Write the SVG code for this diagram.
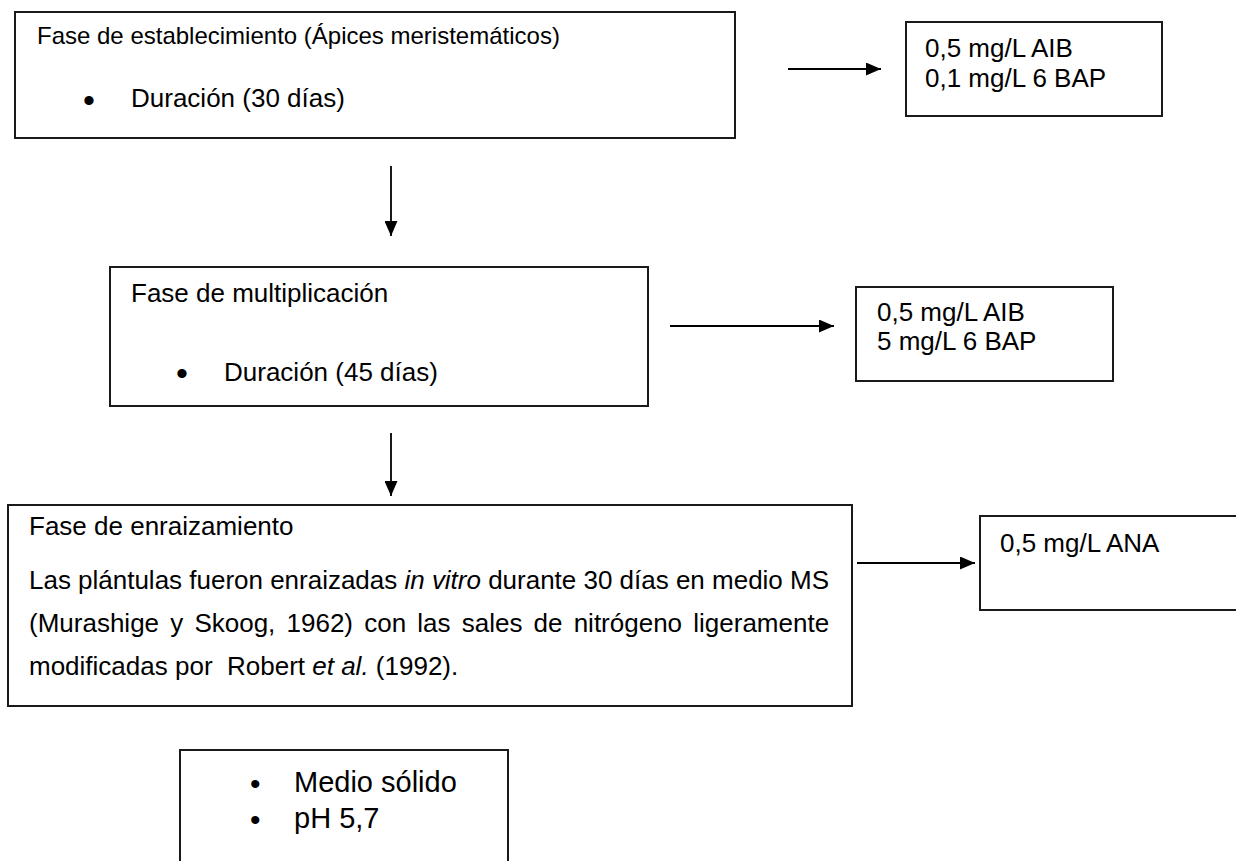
<svg xmlns="http://www.w3.org/2000/svg" width="1236" height="861" viewBox="0 0 1236 861">
<defs>
<marker id="ah" markerWidth="15" markerHeight="13" refX="15" refY="6.5" orient="auto" markerUnits="userSpaceOnUse">
<path d="M0,0 L15,6.5 L0,13 Z" fill="#000"/>
</marker>
<style>
.box{fill:#fff;stroke:#1a1a1a;stroke-width:2}
.t{font-family:"Liberation Sans",Arial,sans-serif;font-size:26px;fill:#000}
.h1{font-size:24px}
.big{font-size:29px}
.b{font-size:34px}
.bb{font-size:30px}
.c{stroke:#000;stroke-width:1.8;fill:none}
</style>
</defs>
<rect width="1236" height="861" fill="#fff"/>
<g id="n1">
<rect class="box" x="15" y="12" width="720" height="126"/>
<text class="t h1" x="37" y="44">Fase de establecimiento (Ápices meristemáticos)</text>
<text class="t b" x="83" y="112">•</text>
<text class="t" x="131" y="107">Duración (30 días)</text>
</g>
<g id="n2">
<rect class="box" x="906" y="22" width="256" height="94"/>
<text class="t" x="925" y="57">0,5 mg/L AIB</text>
<text class="t" x="925" y="87">0,1 mg/L 6 BAP</text>
</g>
<g id="n3">
<rect class="box" x="110" y="267" width="538" height="139"/>
<text class="t" x="131" y="302">Fase de multiplicación</text>
<text class="t b" x="176" y="385">•</text>
<text class="t" x="224" y="381">Duración (45 días)</text>
</g>
<g id="n4">
<rect class="box" x="856" y="287" width="257" height="94"/>
<text class="t" x="877" y="321">0,5 mg/L AIB</text>
<text class="t" x="877" y="350">5 mg/L 6 BAP</text>
</g>
<g id="n5">
<rect class="box" x="8" y="505" width="844" height="201"/>
<text class="t" x="29" y="535">Fase de enraizamiento</text>
<text class="t" x="29" y="589" textLength="800" lengthAdjust="spacing">Las plántulas fueron enraizadas <tspan font-style="italic">in vitro</tspan> durante 30 días en medio MS</text>
<text class="t" x="29" y="632" word-spacing="3.95">(Murashige y Skoog, 1962) con las sales de nitrógeno ligeramente</text>
<text class="t" x="29" y="675" xml:space="preserve">modificadas por  Robert <tspan font-style="italic">et al.</tspan> (1992).</text>
</g>
<g id="n6">
<rect class="box" x="980" y="516" width="262" height="94"/>
<text class="t" x="1000" y="552">0,5 mg/L ANA</text>
</g>
<g id="n7">
<rect class="box" x="180" y="750" width="328" height="120"/>
<text class="t bb" x="250" y="794">•</text>
<text class="t big" x="294" y="792">Medio sólido</text>
<text class="t bb" x="250" y="830">•</text>
<text class="t big" x="294" y="828">pH 5,7</text>
</g>
<g id="connectors">
<line class="c" x1="788" y1="69" x2="881" y2="69" marker-end="url(#ah)"/>
<line class="c" x1="391" y1="166" x2="391" y2="236" marker-end="url(#ah)"/>
<line class="c" x1="670" y1="326" x2="834" y2="326" marker-end="url(#ah)"/>
<line class="c" x1="391" y1="433" x2="391" y2="496" marker-end="url(#ah)"/>
<line class="c" x1="857" y1="563" x2="975" y2="563" marker-end="url(#ah)"/>
</g>
</svg>
